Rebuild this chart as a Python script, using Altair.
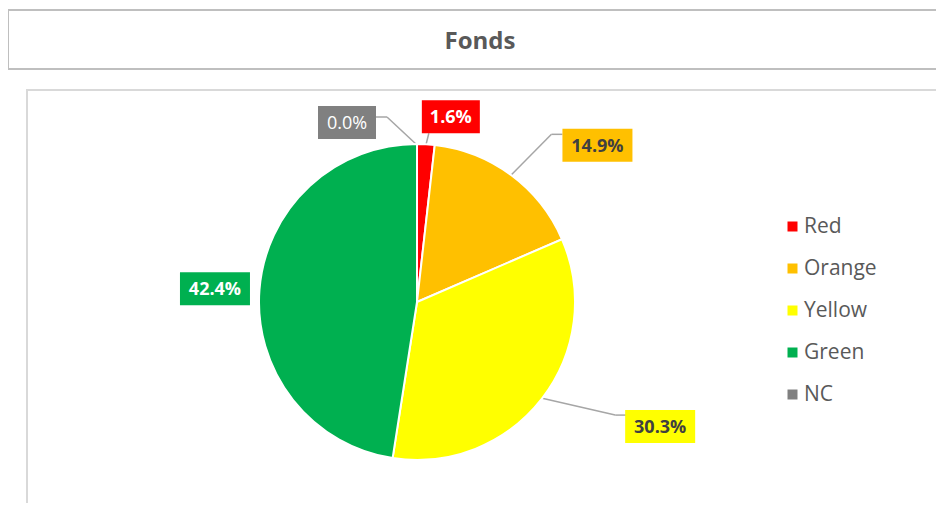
import math
import altair as alt
import pandas as pd

# ---- data ----
categories = ["Red", "Orange", "Yellow", "Green", "NC"]
shares = [1.6, 14.9, 30.3, 42.4, 0.0]
label_texts = ["1.6%", "14.9%", "30.3%", "42.4%", "0.0%"]
colors = ["#FF0000", "#FFC000", "#FFFF00", "#00B050", "#808080"]
chart_title = "Fonds"

# ---- layout (chart pixel coordinates; page = chart + 8) ----
W, H = 928, 495
CX, CY, R = 409, 294, 158
FONT = "Open Sans"
# label box centre relative to the slice anchor, and leader bend/end points
label_layout = {
    "Red":    dict(c=(25, -28.5), pts=[(3, -12)]),
    "Orange": dict(c=(87, -30.5), pts=[(41, -41.5), (52, -41.5)]),
    "Yellow": dict(c=(119, 28.5), pts=[(74, 17), (85, 17)]),
    "Green":  dict(c=(-45.5, -1), pts=[]),
    "NC":     dict(c=(-70, -22.5), pts=[(-30, -28), (-41, -28)]),
}
BOX_H = 33

total = sum(shares)
rows, segs = [], []
cum = 0.0
for i, (cat, v, t) in enumerate(zip(categories, shares, label_texts)):
    mid = (cum + v / 2) / total * 2 * math.pi
    cum += v
    ax, ay = CX + 157 * math.sin(mid), CY - 157 * math.cos(mid)
    lay = label_layout[cat]
    lx, ly = ax + lay["c"][0], ay + lay["c"][1]
    bw = 12 * len(t) + 10
    rows.append(dict(idx=i, cat=cat, share=v, label=t, lx=lx, ly=ly + 6.5,
                     x1=lx - bw / 2, x2=lx + bw / 2, y1=ly - BOX_H / 2, y2=ly + BOX_H / 2))
    prev = (ax, ay)
    for (dx, dy) in lay["pts"]:
        nxt = (ax + dx, ay + dy)
        segs.append(dict(cat=cat, sx=prev[0], sy=prev[1], ex=nxt[0], ey=nxt[1]))
        prev = nxt

df = pd.DataFrame(rows)
seg_df = pd.DataFrame(segs)

color_scale = alt.Scale(domain=categories, range=colors)
px = lambda f: alt.X(f, type="quantitative", scale=None, axis=None)
py = lambda f: alt.Y(f, type="quantitative", scale=None, axis=None)

one = alt.Data(values=[{"t": chart_title}])

title_box = alt.Chart(one).mark_rect(fill="white", stroke="#BFBFBF", strokeWidth=2).encode(
    x=alt.value(0), x2=alt.value(945), y=alt.value(2), y2=alt.value(61))
title_text = alt.Chart(one).mark_text(font=FONT, fontSize=24, fontWeight="bold",
                                       color="#595959", baseline="alphabetic", align="center").encode(
    x=alt.value(472), y=alt.value(40.5), text="t:N")
plot_box = alt.Chart(one).mark_rect(fill="white", stroke="#D9D9D9", strokeWidth=2).encode(
    x=alt.value(19), x2=alt.value(931), y=alt.value(82), y2=alt.value(520))

pie = alt.Chart(df).mark_arc(outerRadius=R, stroke="white", strokeWidth=2).encode(
    theta=alt.Theta("share:Q", stack=True),
    order=alt.Order("idx:Q"),
    color=alt.Color("cat:N", scale=color_scale, sort=categories,
                    legend=alt.Legend(title=None, orient="none", legendX=774, legendY=208,
                                      symbolType="square", symbolSize=100, symbolStrokeWidth=0,
                                      labelFont=FONT, labelFontSize=21, labelColor="#595959",
                                      labelOffset=1, rowPadding=20, padding=0)),
    x=alt.value(CX), y=alt.value(CY),
)

leaders = alt.Chart(seg_df).mark_rule(color="#A6A6A6", strokeWidth=1.5).encode(
    x=px("sx"), y=py("sy"), x2="ex:Q", y2="ey:Q")

boxes = alt.Chart(df).mark_rect().encode(
    x=px("x1"), x2="x2:Q", y=py("y1"), y2="y2:Q",
    color=alt.Color("cat:N", scale=color_scale, legend=None))

dark = "datum.cat == 'Orange' || datum.cat == 'Yellow'"
labels_bold = alt.Chart(df).transform_filter("datum.cat != 'NC'").mark_text(
    font=FONT, fontSize=18, fontWeight="bold", align="center", baseline="alphabetic").encode(
    x=px("lx"), y=py("ly"), text="label:N",
    color=alt.condition(dark, alt.value("#404040"), alt.value("white")))
labels_plain = alt.Chart(df).transform_filter("datum.cat == 'NC'").mark_text(
    font=FONT, fontSize=18, align="center", baseline="alphabetic", color="white").encode(
    x=px("lx"), y=py("ly"), text="label:N")

chart = alt.layer(title_box, title_text, plot_box, leaders, pie, boxes, labels_bold, labels_plain).properties(
    width=W, height=H, padding=0, autosize=alt.AutoSizeParams(type="none")
).configure_view(stroke=None)

chart.save("out.html", embed_options={"renderer": "svg", "actions": False})
